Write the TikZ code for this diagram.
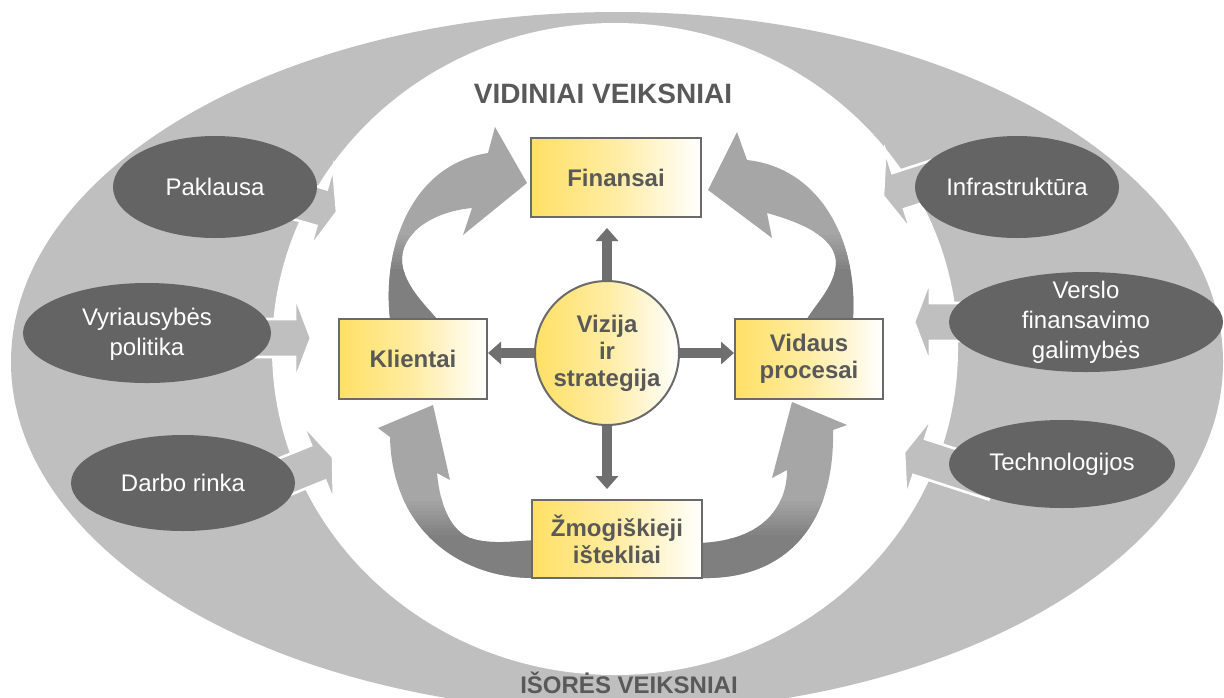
\documentclass[tikz,border=0pt]{standalone}
\usepackage{fontspec}
\setmainfont{Liberation Sans}
\usetikzlibrary{shapes.geometric,arrows.meta,calc}
\definecolor{band}{HTML}{BFBFBF}
\definecolor{darkell}{HTML}{646464}
\definecolor{arrL}{HTML}{A6A6A6}
\definecolor{arrD}{HTML}{7F7F7F}
\definecolor{boxY}{HTML}{FFE066}
\definecolor{txt}{HTML}{595959}
\definecolor{cArr}{HTML}{6F6F6F}
\definecolor{bord}{HTML}{6A6A6A}
\tikzset{
  boxn/.style={draw=bord, line width=1pt, left color=boxY, right color=white, middle color=boxY!60!white,
    font=\bfseries\fontsize{12}{13.5}\selectfont, text=txt, align=center, inner sep=0pt},
  circn/.style={boxn, circle, minimum size=72pt},
  etext/.style={font=\fontsize{12}{15}\selectfont, text=white, align=center, inner sep=0pt},
  titlen/.style={font=\bfseries\fontsize{14}{16}\selectfont, text=txt, inner sep=0pt, anchor=base},
  darr/.style={draw=cArr, line width=5pt, -{Triangle[length=6.5pt,width=11pt]}},
  sidearr/.style={fill=band, draw=white, line width=1.3pt, line join=miter},
}
\newcommand{\sidearrow}[3]{%
  \filldraw[sidearr, shift={(#1,#2)}, rotate=#3]
    (-95,-19) -- (-16,-19) -- (-16,-42) -- (0,0) -- (-16,42) -- (-16,19) -- (-95,19) -- cycle;}
% vertical gradient strips: x1, x2, y start (light), y end of gradient (dark), y bottom
\newcommand{\gradstrips}[5]{%
  \foreach \i in {0,...,11}{%
    \pgfmathsetmacro\ya{#3+(#4-#3)*\i/12}%
    \pgfmathsetmacro\yb{\ya+(#4-#3)/12+0.8}%
    \pgfmathtruncatemacro\pc{100*\i/11}%
    \fill[arrD!\pc!arrL] (#1,\ya) rectangle (#2,\yb);}%
  \fill[arrD] (#1,#4) rectangle (#2,#5);}
\newcommand{\arrowA}{(390,326) -- (390,319) .. controls (382,250) and (410,165) .. (488,153) -- (495,127) -- (527,183) -- (463,235) -- (472,208) .. controls (430,212) and (400,235) .. (402,262) .. controls (404,285) and (425,305) .. (437,319) -- (437,326) -- cycle}
\newcommand{\arrowB}{(853,326) -- (853,319) .. controls (858,240) and (820,168) .. (747,160) -- (737,132) -- (708,190) -- (772,238) -- (767,213) .. controls (810,225) and (835,240) .. (836,262) .. controls (836,285) and (815,305) .. (807,319) -- (807,326) -- cycle}
\newcommand{\arrowC}{(539,578) -- (533,578) .. controls (460,578) and (392,530) .. (390,437) -- (378,428) -- (433,405) -- (450,480) -- (437,473) .. controls (440,505) and (450,530) .. (470,538) .. controls (490,545) and (515,541) .. (539,540) -- cycle}
\newcommand{\arrowD}{(695,578) -- (701,578) .. controls (790,580) and (835,520) .. (833,430) -- (847,425) -- (792,402) -- (772,478) -- (787,470) .. controls (787,505) and (765,540) .. (701,543) -- (695,543) -- cycle}
\begin{document}
\begin{tikzpicture}[x=0.5pt,y=-0.5pt]
\useasboundingbox (0,0) rectangle (1224,697);
\fill[white] (0,0) rectangle (1224,697);
% bands
\fill[band] (617,362) ellipse [x radius=606, y radius=350];
\fill[white] (615,349) ellipse [x radius=343, y radius=326];
% inward arrows
\sidearrow{337}{212}{-16}
\sidearrow{311}{338}{0}
\sidearrow{333}{457}{22}
\sidearrow{883}{196}{198}
\sidearrow{914}{322}{180}
\sidearrow{904}{452}{162}
% outer factors
\fill[darkell] (215,187) ellipse [x radius=102, y radius=51];
\fill[darkell] (147,333) ellipse [x radius=124, y radius=50];
\fill[darkell] (183,483) ellipse [x radius=112, y radius=48];
\fill[darkell] (1017,187) ellipse [x radius=102, y radius=51];
\fill[darkell] (1086,322) ellipse [x radius=137, y radius=50];
\fill[darkell] (1062,464) ellipse [x radius=113, y radius=44];
\node[etext] (pak) at (215,187) {Paklausa};
\node[etext] (vyr) at (147,334) {Vyriausybės\\politika};
\node[etext] (dar) at (183,483) {Darbo rinka};
\node[etext] (inf) at (1017,187) {Infrastruktūra};
\node[etext] (ver) at (1086,322) {Verslo\\finansavimo\\galimybės};
\node[etext] (tec) at (1062,464) {Technologijos};
% curved arrows
\fill[arrL] \arrowA;
\begin{scope}\clip \arrowA; \gradstrips{360}{460}{232}{272}{330}\end{scope}
\fill[arrL] \arrowB;
\begin{scope}\clip \arrowB; \gradstrips{790}{870}{232}{272}{330}\end{scope}
\fill[arrL] \arrowC;
\begin{scope}\clip \arrowC; \gradstrips{370}{545}{498}{538}{585}\end{scope}
\fill[arrL] \arrowD;
\begin{scope}\clip \arrowD; \gradstrips{690}{860}{498}{538}{585}\end{scope}
% inner boxes
\node[boxn, minimum width=85pt, minimum height=39.5pt] (fin) at (616,177.5) {Finansai};
\node[boxn, minimum width=74pt, minimum height=40pt] (kli) at (413,359) {Klientai};
\node[boxn, minimum width=74pt, minimum height=40pt] (vid) at (809,359) {Vidaus\\procesai};
\node[boxn, minimum width=85pt, minimum height=39pt] (zmo) at (617,539) {Žmogiškieji\\ištekliai};
\node[circn] (viz) at (607,353) {Vizija\\ir\\strategija};
% centre arrows
\draw[darr, shorten >=5pt] (viz.north) -- (viz.north |- fin.south);
\draw[darr] (viz.west) -- (viz.west -| kli.east);
\draw[darr] (viz.east) -- (viz.east -| vid.west);
\draw[darr, shorten >=5pt] (viz.south) -- (viz.south |- zmo.north);
% titles
\node[titlen] (vidt) at (603,103) {VIDINIAI VEIKSNIAI};
\node[titlen, font=\bfseries\fontsize{12}{14}\selectfont] (isot) at (629,693) {IŠORĖS VEIKSNIAI};
\end{tikzpicture}
\end{document}
